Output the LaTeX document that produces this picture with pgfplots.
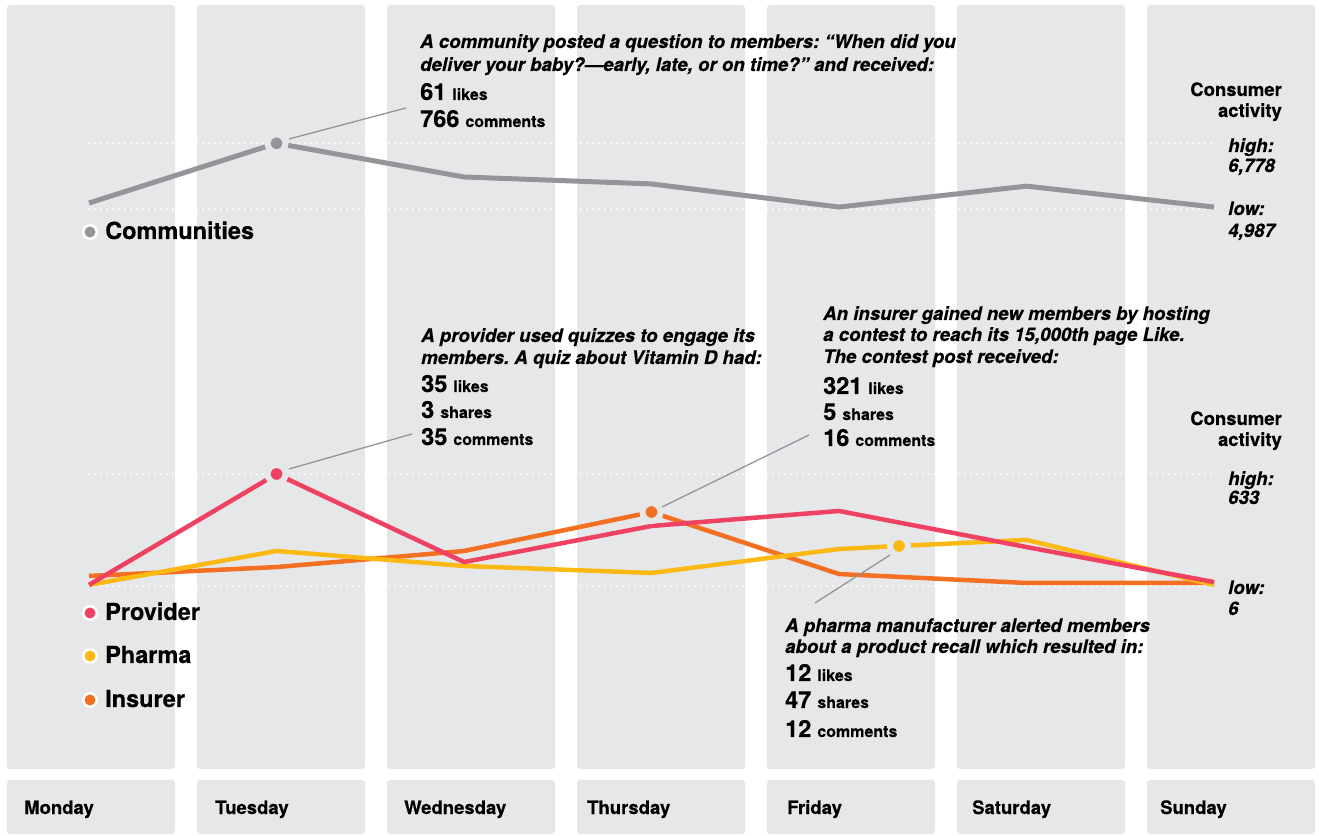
\documentclass[border=0pt]{standalone}
\usepackage{pgfplots}
\pgfplotsset{compat=1.18}
\usepackage{fontspec}
\setmainfont{TeX Gyre Heros}[BoldFeatures={FakeBold=0.4}, BoldItalicFeatures={FakeBold=0.4}]
\frenchspacing

\definecolor{bgcol}{HTML}{E6E7E8}
\definecolor{commcol}{HTML}{939598}
\definecolor{provcol}{HTML}{EF4262}
\definecolor{pharmcol}{HTML}{FDB913}
\definecolor{inscol}{HTML}{F36F21}

% one page unit = one pixel of the reference
\newcommand\itl{\bfseries\itshape\fontsize{18.65}{22}\selectfont}
\newcommand\stat[2]{{\bfseries\fontsize{23.5}{23}\selectfont #1\hspace{6pt}\fontsize{16}{16}\selectfont #2}}
\newcommand\lab{\bfseries\fontsize{18.5}{20}\selectfont}

\tikzset{dots/.style={white, line width=2.2pt, line cap=round, dash pattern=on 0pt off 6pt}}
\pgfplotsset{
  panel/.style={anchor=south west, width=1125pt, scale only axis,
    xmin=0, xmax=6, hide axis, clip=false},
  hilite/.style={only marks, mark=*, mark size=9pt,
    mark options={fill=#1, draw=bgcol, line width=6pt}},
}

\begin{document}
\begin{tikzpicture}
\useasboundingbox (0,0) rectangle (1319pt,835pt);

% day columns and label strips
\begin{scope}[x=1pt, y=-1pt, yshift=835pt]
  \foreach \i in {0,...,6}{
    \fill[bgcol, rounded corners=3pt] ({7+190*\i},5) rectangle ({175+190*\i},769);
    \fill[bgcol, rounded corners=3pt] ({7+190*\i},780) rectangle ({175+190*\i},834);
  }
  \foreach \x/\d in {24/Monday,215/Tuesday,404/Wednesday,587/Thursday,787/Friday,972/Saturday,1160/Sunday}
    \node[anchor=base west, inner sep=0pt, font=\lab] at (\x,814) {\d};
\end{scope}

% Communities
\begin{axis}[panel, at={(89pt,626pt)}, height=65.7pt, ymin=4987, ymax=6778]
  \draw[dots] (axis cs:0,6778) -- (axis cs:6,6778);
  \draw[dots] (axis cs:0,4987) -- (axis cs:6,4987);
  \addplot[commcol, line width=5pt, line join=round] coordinates {
    (0,5150) (1,6778) (2,5860) (3,5670) (4,5040) (5,5610) (6,5040)};
  \addplot[hilite=commcol] coordinates {(1,6778)};
\end{axis}

% Provider, Pharma, Insurer
\begin{axis}[panel, at={(89pt,249pt)}, height=112pt, ymin=6, ymax=633]
  \draw[dots] (axis cs:0,633) -- (axis cs:6,633);
  \draw[dots] (axis cs:0,6) -- (axis cs:6,6);
  \addplot[inscol, line width=4.5pt, line join=round] coordinates {
    (0,62) (1,112) (2,202) (3,420) (4,73) (5,23) (6,23)};
  \addplot[pharmcol, line width=4.5pt, line join=round] coordinates {
    (0,12) (1,202) (2,118) (3,79) (4,213) (4.32,230) (5,264) (6,12)};
  \addplot[provcol, line width=4.5pt, line join=round] coordinates {
    (0,12) (1,633) (2,140) (3,342) (4,426) (5,224) (6,28)};
  \addplot[hilite=provcol] coordinates {(1,633)};
  \addplot[hilite=inscol] coordinates {(3,420)};
  \addplot[hilite=pharmcol] coordinates {(4.32,230)};
\end{axis}

% annotations, leader lines, legend, scale labels
\begin{scope}[x=1pt, y=-1pt, yshift=835pt]
  \draw[commcol, line width=1.3pt] (289,139) -- (406,108);
  \draw[commcol, line width=1.3pt] (289,469) -- (412,434);
  \draw[commcol, line width=1.3pt] (662,507) -- (809,435);
  \draw[commcol, line width=1.3pt] (890,555) -- (815,603);

  \begin{scope}[every node/.style={anchor=base west, inner sep=0pt}]
    \node[font=\itl] at (420,48) {A community posted a question to members: “When did you};
    \node[font=\itl] at (420,71) {deliver your baby?—early, late, or on time?” and received:};
    \node at (420,100) {\stat{61}{likes}};
    \node at (420,127) {\stat{766}{comments}};

    \node[font=\itl] at (421,342) {A provider used quizzes to engage its};
    \node[font=\itl] at (421,364) {members. A quiz about Vitamin D had:};
    \node at (421,392) {\stat{35}{likes}};
    \node at (421,418) {\stat{3}{shares}};
    \node at (421,445) {\stat{35}{comments}};

    \node[font=\itl] at (823,320) {An insurer gained new members by hosting};
    \node[font=\itl] at (823,341) {a contest to reach its 15,000th page Like.};
    \node[font=\itl] at (823,363) {The contest post received:};
    \node at (823,394) {\stat{321}{likes}};
    \node at (823,420) {\stat{5}{shares}};
    \node at (823,446) {\stat{16}{comments}};

    \node[font=\itl] at (785,632) {A pharma manufacturer alerted members};
    \node[font=\itl] at (785,653) {about a product recall which resulted in:};
    \node at (785,681) {\stat{12}{likes}};
    \node at (785,708) {\stat{47}{shares}};
    \node at (785,737) {\stat{12}{comments}};

    \node[font=\itl] at (1228,152) {high:};
    \node[font=\itl] at (1228,172) {6,778};
    \node[font=\itl] at (1228,215) {low:};
    \node[font=\itl] at (1228,237) {4,987};
    \node[font=\itl] at (1228,485) {high:};
    \node[font=\itl] at (1228,504) {633};
    \node[font=\itl] at (1228,594) {low:};
    \node[font=\itl] at (1228,615) {6};

    \foreach \t/\yy/\c in {Communities/239/commcol, Provider/620/provcol,
                           Pharma/663/pharmcol, Insurer/707/inscol}{
      \fill[white] (90,\yy-7) circle (8pt);
      \fill[\c] (90,\yy-7) circle (5.5pt);
      \node[font=\bfseries\fontsize{23.5}{23}\selectfont] at (105,\yy) {\t};
    }
  \end{scope}
  \node[anchor=base east, inner sep=0pt, font=\lab] at (1282,96) {Consumer};
  \node[anchor=base east, inner sep=0pt, font=\lab] at (1282,117) {activity};
  \node[anchor=base east, inner sep=0pt, font=\lab] at (1282,425) {Consumer};
  \node[anchor=base east, inner sep=0pt, font=\lab] at (1282,446) {activity};
\end{scope}
\end{tikzpicture}
\end{document}
